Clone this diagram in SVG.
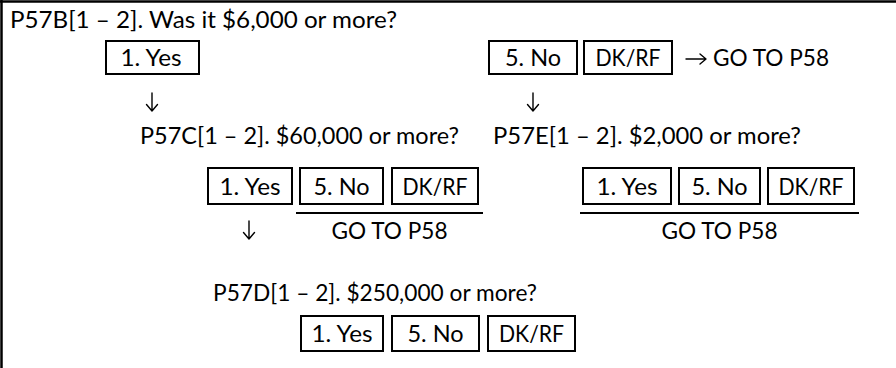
<svg xmlns="http://www.w3.org/2000/svg" width="896" height="368" viewBox="0 0 896 368">
<style>
.t{font-family:Lato,"Liberation Sans",sans-serif;font-size:23.5px;fill:#000}
.c{text-anchor:middle}
.b{fill:none;stroke:#000;stroke-width:2}
.l{stroke:#000;stroke-width:2;fill:none}
.a{stroke:#000;stroke-width:1.4;fill:none;stroke-linecap:round;stroke-linejoin:round}
</style>
<rect width="896" height="368" fill="#fff"/>
<g id="frame">
<line class="l" x1="0" y1="1.5" x2="896" y2="1.5" style="stroke-width:2.5"/>
<line class="l" x1="1.5" y1="0" x2="1.5" y2="368" style="stroke-width:2.5"/>
</g>
<g id="q-p57b"><text class="t" x="10" y="28" textLength="387" lengthAdjust="spacingAndGlyphs">P57B[1 – 2]. Was it $6,000 or more?</text></g>
<g id="p57b-yes"><rect class="b" x="106" y="41" width="93" height="33"/><text class="t c" x="151" y="66" textLength="61" lengthAdjust="spacingAndGlyphs">1. Yes</text></g>
<g id="p57b-no"><rect class="b" x="489" y="41" width="88" height="33"/><text class="t c" x="533" y="66" textLength="56" lengthAdjust="spacingAndGlyphs">5. No</text></g>
<g id="p57b-dkrf"><rect class="b" x="584" y="41" width="88" height="33"/><text class="t c" x="628" y="66" textLength="65" lengthAdjust="spacingAndGlyphs">DK/RF</text></g>
<g id="p57b-goto"><text class="t" x="713" y="66" textLength="116" lengthAdjust="spacingAndGlyphs">GO TO P58</text></g>

<g id="q-p57c"><text class="t" x="140" y="144" textLength="319" lengthAdjust="spacingAndGlyphs">P57C[1 – 2]. $60,000 or more?</text></g>
<g id="p57c-yes"><rect class="b" x="208" y="168" width="84" height="36"/><text class="t c" x="250" y="195" textLength="61" lengthAdjust="spacingAndGlyphs">1. Yes</text></g>
<g id="p57c-no"><rect class="b" x="300" y="168" width="83" height="36"/><text class="t c" x="341.5" y="195" textLength="56" lengthAdjust="spacingAndGlyphs">5. No</text></g>
<g id="p57c-dkrf"><rect class="b" x="392" y="168" width="86" height="36"/><text class="t c" x="435" y="195" textLength="65" lengthAdjust="spacingAndGlyphs">DK/RF</text></g>
<g id="p57c-goto"><line class="l" x1="296" y1="213" x2="483" y2="213"/><text class="t c" x="389.5" y="239" textLength="116" lengthAdjust="spacingAndGlyphs">GO TO P58</text></g>

<g id="q-p57e"><text class="t" x="493" y="144" textLength="308" lengthAdjust="spacingAndGlyphs">P57E[1 – 2]. $2,000 or more?</text></g>
<g id="p57e-yes"><rect class="b" x="583" y="168" width="88" height="36"/><text class="t c" x="627" y="195" textLength="61" lengthAdjust="spacingAndGlyphs">1. Yes</text></g>
<g id="p57e-no"><rect class="b" x="679" y="168" width="81" height="36"/><text class="t c" x="719.5" y="195" textLength="56" lengthAdjust="spacingAndGlyphs">5. No</text></g>
<g id="p57e-dkrf"><rect class="b" x="768" y="168" width="86" height="36"/><text class="t c" x="811" y="195" textLength="65" lengthAdjust="spacingAndGlyphs">DK/RF</text></g>
<g id="p57e-goto"><line class="l" x1="580" y1="213" x2="859" y2="213"/><text class="t c" x="719.5" y="239" textLength="116" lengthAdjust="spacingAndGlyphs">GO TO P58</text></g>

<g id="q-p57d"><text class="t" x="213" y="301" textLength="324" lengthAdjust="spacingAndGlyphs">P57D[1 – 2]. $250,000 or more?</text></g>
<g id="p57d-yes"><rect class="b" x="301" y="316" width="82" height="35"/><text class="t c" x="342" y="342" textLength="61" lengthAdjust="spacingAndGlyphs">1. Yes</text></g>
<g id="p57d-no"><rect class="b" x="392" y="316" width="87" height="35"/><text class="t c" x="435.5" y="342" textLength="56" lengthAdjust="spacingAndGlyphs">5. No</text></g>
<g id="p57d-dkrf"><rect class="b" x="488" y="316" width="87" height="35"/><text class="t c" x="531.5" y="342" textLength="65" lengthAdjust="spacingAndGlyphs">DK/RF</text></g>

<g id="connectors">
<path class="a" d="M152,93 V111 M146.5,104.5 L152,111 L157.5,104.5"/>
<path class="a" d="M533,93 V111 M527.5,104.5 L533,111 L538.5,104.5"/>
<path class="a" d="M249,221 V239 M243.5,232.5 L249,239 L254.5,232.5"/>
<path class="a" d="M686,59 H706 M700,54 L706,59 L700,64"/>
</g>
</svg>
